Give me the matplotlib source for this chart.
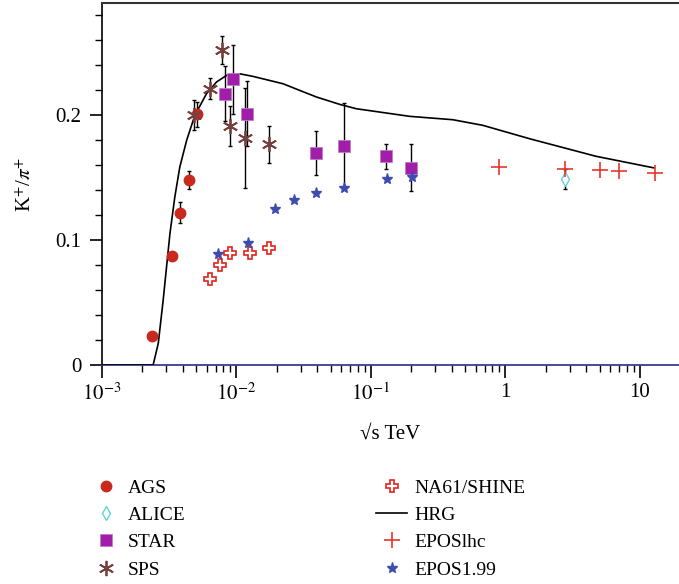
import numpy as np
import matplotlib
matplotlib.use('Agg')
import matplotlib.pyplot as plt

plt.rcParams['font.family'] = ['Liberation Serif', 'DejaVu Serif']
plt.rcParams['mathtext.fontset'] = 'stix'

# K+/pi+ ratio vs sqrt(s) in TeV
ags_x = [0.00234, 0.00329, 0.00379, 0.00440, 0.00511]
ags_y = [0.0232, 0.087, 0.122, 0.148, 0.201]
ags_err = [0.0, 0.0, 0.0085, 0.0074, 0.010]

alice_x = [2.76]
alice_y = [0.149]
alice_err = [0.008]

star_x = [0.00818, 0.00944, 0.01187, 0.0393, 0.0630, 0.130, 0.200]
star_y = [0.2173, 0.2288, 0.2013, 0.1699, 0.1755, 0.1672, 0.158]
star_err = [0.022, 0.0275, 0.026, 0.0173, 0.034, 0.010, 0.0188]

sps_x = [0.00484, 0.00634, 0.00781, 0.00891, 0.01153, 0.01745]
sps_y = [0.2005, 0.2213, 0.2525, 0.1917, 0.1819, 0.1768]
sps_err = [0.012, 0.0085, 0.011, 0.016, 0.040, 0.015]

na61_x = [0.00634, 0.00752, 0.00891, 0.01256, 0.01745]
na61_y = [0.0685, 0.080, 0.0901, 0.0901, 0.0941]

hrg_x = [0.0024, 0.00262, 0.00285, 0.00302, 0.0032, 0.00348, 0.00379,
         0.00426, 0.0049, 0.00598, 0.0071, 0.00843, 0.01057, 0.01327,
         0.0222, 0.0295, 0.0393, 0.0585, 0.0778, 0.194, 0.406, 0.678,
         1.507, 4.71, 12.7]
hrg_y = [0.0, 0.0173, 0.052, 0.0787, 0.1053, 0.1347, 0.1587,
         0.180, 0.200, 0.2173, 0.2267, 0.232, 0.2333, 0.2312,
         0.2253, 0.220, 0.2147, 0.2088, 0.2053, 0.1992, 0.1965, 0.192,
         0.1813, 0.1672, 0.1579]

eposlhc_x = [0.9, 2.76, 5.02, 7.0, 13.0]
eposlhc_y = [0.1587, 0.1568, 0.156, 0.1555, 0.1541]

epos199_x = [0.00731, 0.0122, 0.0194, 0.0266, 0.0388, 0.063, 0.131, 0.203]
epos199_y = [0.0888, 0.0979, 0.1248, 0.1325, 0.1379, 0.1421, 0.1488, 0.1507]

fig = plt.figure(figsize=(6.79, 5.84), dpi=100)
ax = fig.add_axes([102 / 679, 1 - 365 / 584, 1 - 102 / 679, (365 - 3) / 584])

eb = dict(fmt='none', ecolor='black', elinewidth=1.0, capsize=1.5, capthick=1.0, zorder=2)
ax.errorbar(ags_x, ags_y, yerr=ags_err, **eb)
ax.errorbar(star_x, star_y, yerr=star_err, **eb)
ax.errorbar(sps_x, sps_y, yerr=sps_err, **eb)
ax.errorbar(alice_x, alice_y, yerr=alice_err, **eb)

ax.plot(hrg_x, hrg_y, color='black', lw=1.2, zorder=3, label='HRG')
ax.plot([1e-3, 0.0024], [0, 0], color='black', lw=1.2, zorder=3)

ax.plot(ags_x, ags_y, 'o', color='#c9281d', ms=7.5, ls='none', zorder=4, label='AGS')
ax.plot(alice_x, alice_y, 'd', mfc='white', mec='#63d3d6', mew=1.0, ms=7, ls='none',
        zorder=4, label='ALICE')
ax.plot(star_x, star_y, 's', color='#a11ea8', mec='#c27ac6', mew=0.6, ms=8, ls='none',
        zorder=4, label='STAR')
ax.plot(sps_x, sps_y, marker=(6, 2, 0), color='#76403f', mew=1.3, ms=11, ls='none',
        zorder=4, label='SPS')
ax.plot(na61_x, na61_y, 'P', mfc='white', mec='#e0231e', mew=1.2, ms=9, ls='none',
        zorder=4, label='NA61/SHINE')
ax.plot(eposlhc_x, eposlhc_y, '+', color='#e8352c', mew=1.2, ms=12, ls='none',
        zorder=4, label='EPOSlhc')
ax.plot(epos199_x, epos199_y, '*', color='#3e4cae', ms=8, ls='none',
        zorder=4, label='EPOS1.99')

ax.set_xscale('log')
ax.set_xlim(1e-3, 19.5)
ax.set_ylim(0, 0.29)
ax.set_yticks([0, 0.1, 0.2])
ax.set_yticklabels(['0', '0.1', '0.2'])
ax.set_yticks(np.arange(0, 0.29, 0.02), minor=True)
ax.set_xticks([1e-3, 1e-2, 1e-1, 1, 10])
ax.set_xticklabels([r'$10^{-3}$', r'$10^{-2}$', r'$10^{-1}$', '1', '10'])

ax.spines['right'].set_visible(False)
ax.spines['top'].set_color('#333333')
ax.spines['top'].set_linewidth(1.5)
ax.spines['left'].set_linewidth(1.2)
ax.spines['bottom'].set_color('#3b3b8c')
ax.spines['bottom'].set_linewidth(1.3)
ax.tick_params(which='major', direction='out', length=9, width=1.2, labelsize=15, pad=4)
ax.tick_params(which='minor', direction='out', length=5, width=1.0)
ax.tick_params(axis='y', which='major', pad=6)

ax.set_xlabel('√s TeV', fontsize=15, labelpad=14)
ax.set_ylabel(r'K$^{+}$/$\pi^{+}$', fontsize=15, labelpad=14)

handles, labels = ax.get_legend_handles_labels()
order = ['AGS', 'ALICE', 'STAR', 'SPS', 'NA61/SHINE', 'HRG', 'EPOSlhc', 'EPOS1.99']
hmap = dict(zip(labels, handles))
fig.legend([hmap[k] for k in order], order, ncol=2, loc='upper left',
           bbox_to_anchor=(90 / 679, 1 - 479 / 584), frameon=False, fontsize=14,
           borderpad=0, borderaxespad=0, columnspacing=9.8, handlelength=1.6,
           labelspacing=0.5, handletextpad=0.35)

fig.savefig('out.png', dpi=100)
